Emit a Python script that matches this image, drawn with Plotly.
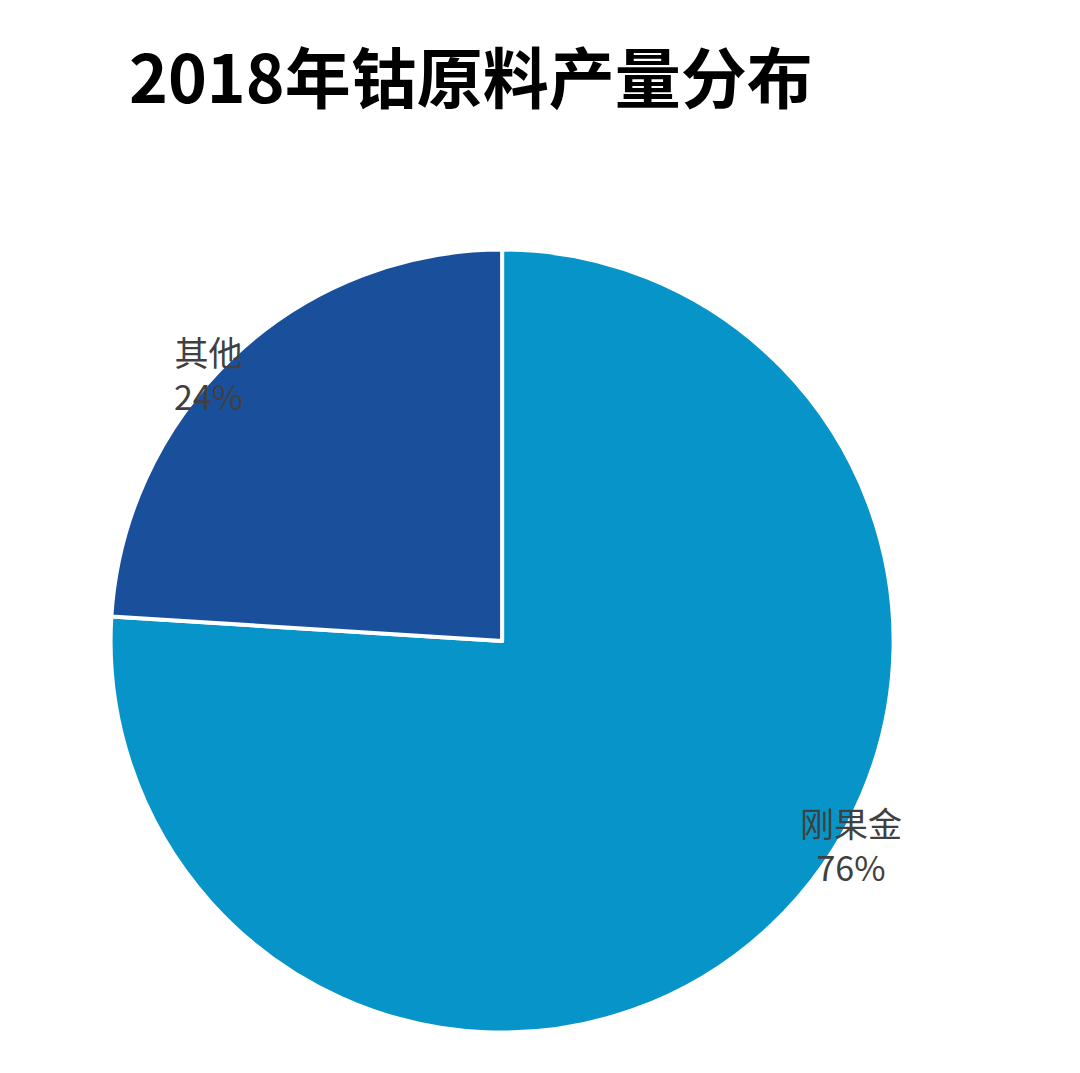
import plotly.graph_objects as go

labels = ["刚果金", "其他"]
values = [76, 24]
colors = ["#0795C9", "#1A4F9C"]

fig = go.Figure(
    go.Pie(
        labels=labels,
        values=values,
        sort=False,
        direction="clockwise",
        rotation=0,
        marker=dict(colors=colors, line=dict(color="#FFFFFF", width=4)),
        textinfo="none",
        hoverinfo="label+percent",
        domain=dict(x=[0.095, 0.82], y=[0.035, 0.785]),
    )
)

label_font = dict(family="Noto Sans CJK SC", size=34, color="#404040")
fig.add_annotation(x=0.152, y=1 - 365 / 1073, xref="paper", yref="paper",
                   text=f"{labels[1]}<br>{values[1]}%", showarrow=False,
                   font=label_font, align="center")
fig.add_annotation(x=0.83, y=1 - 885 / 1073, xref="paper", yref="paper",
                   text=f"{labels[0]}<br>{values[0]}%", showarrow=False,
                   font=label_font, align="center")

fig.update_layout(
    title=dict(text="<b>2018年钴原料产量分布</b>", x=0.112, xanchor="left",
               y=1 - 72 / 1073, yanchor="middle",
               font=dict(family="Noto Sans CJK SC", size=66, color="#000000")),
    width=1080, height=1073,
    margin=dict(l=0, r=0, t=0, b=0),
    showlegend=False,
    paper_bgcolor="#FFFFFF",
)

fig.write_html("out.html")
